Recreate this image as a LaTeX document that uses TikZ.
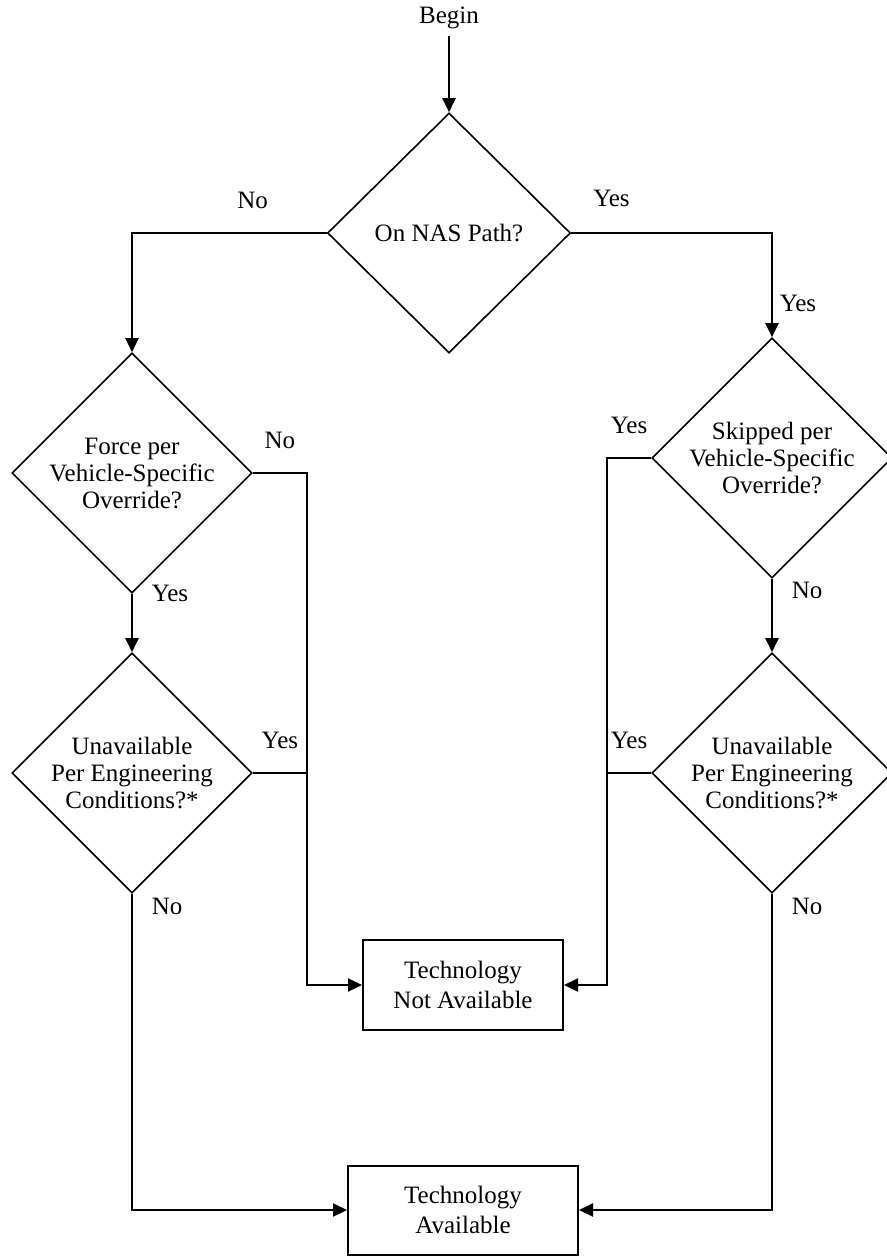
\documentclass[tikz,border=0pt]{standalone}
\usepackage{fontspec}
\setmainfont{Liberation Serif}
\usetikzlibrary{arrows.meta,shapes.geometric}

\begin{document}
\begin{tikzpicture}[x=0.5pt,y=-0.5pt,
        font=\fontsize{12.5}{13.5}\selectfont,
        decision/.style={diamond,draw,line width=0.8pt,inner sep=-2pt,minimum width=120pt,minimum height=120pt,align=center},
        result/.style={rectangle,draw,line width=1pt,align=center,font=\fontsize{12.5}{15}\selectfont},
        flow/.style={line width=1.1pt,-{Triangle[length=7pt,width=6.5pt]}},
        link/.style={line width=1.1pt}]
                \useasboundingbox (0,0) rectangle (887,1256);

                \node (begin) at (449,18) {Begin};
                \node[decision,minimum width=121.5pt] (nas) at (449,233) {On NAS Path?};
                \node[decision] (force) at (132,473) {Force per\\Vehicle-Specific\\Override?};
                \node[decision] (unavl) at (132,773) {Unavailable\\Per Engineering\\Conditions?*};
                \node[decision] (skip) at (772,458) {Skipped per\\Vehicle-Specific\\Override?};
                \node[decision] (unavr) at (772,773) {Unavailable\\Per Engineering\\Conditions?*};
                \node[result,minimum width=100pt,minimum height=45pt] (na) at (463,985) {Technology\\Not Available};
                \node[result,minimum width=115pt,minimum height=44.5pt] (av) at (463,1210) {Technology\\Available};

                \coordinate (lbus) at (307,473);
                \coordinate (rbus) at (607,458);

                \draw[flow] (begin) -- (nas.north);
                \draw[flow] (nas.west) -| node[pos=0.19,above=8pt] {No} (force.north);
                \draw[flow] (nas.east) -| node[pos=0.1,above=9pt] {Yes} node[pos=0.84,right] {Yes} (skip.north);

                \draw[flow] (force.east) -- node[above=8pt] {No} (lbus) |- (na.west);
                \draw[flow] (force.south) -- node[at start,right=6pt] {Yes} (unavl.north);
                \draw[link] (unavl.east) -- node[above=8pt] {Yes} (unavl.east -| lbus);
                \draw[flow] (unavl.south) |- node[pos=0.02,right=6pt] {No} (av.west);

                \draw[flow] (skip.west) -- node[above=8pt] {Yes} (rbus) |- (na.east);
                \draw[flow] (skip.south) -- node[pos=0.16,right=6pt] {No} (unavr.north);
                \draw[link] (unavr.west) -- node[above=8pt] {Yes} (unavr.west -| rbus);
                \draw[flow] (unavr.south) |- node[pos=0.02,right=6pt] {No} (av.east);
            \end{tikzpicture}
\end{document}
